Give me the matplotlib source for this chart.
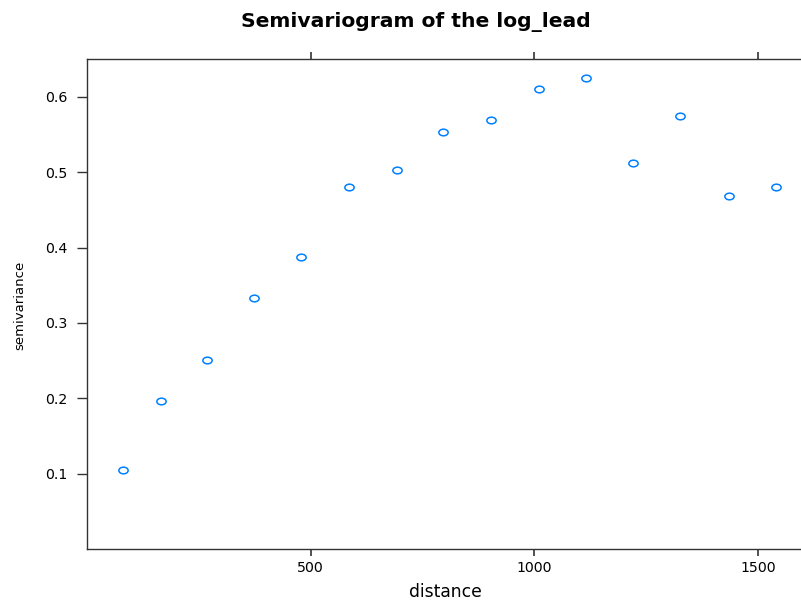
import matplotlib
matplotlib.use("Agg")
import matplotlib.pyplot as plt
from matplotlib.path import Path
from matplotlib.transforms import Affine2D

# --- данные вариограммы ---
dist = [80, 165, 268, 373, 479, 585, 692, 795, 902, 1010, 1116, 1220, 1327, 1435, 1541]
gamma = [0.105, 0.196, 0.251, 0.333, 0.387, 0.481, 0.503, 0.554, 0.569,
         0.610, 0.625, 0.512, 0.575, 0.468, 0.481]
x_ticks = [500, 1000, 1500]
y_ticks = [0.1, 0.2, 0.3, 0.4, 0.5, 0.6]
title = "Semivariogram of the log_lead"
x_label = "distance"
y_label = "semivariance"

W, H = 801, 605
AX_COL = "#333333"

plt.rcParams["font.family"] = ["DejaVu Sans"]

fig = plt.figure(figsize=(W / 100, H / 100), dpi=100)
fig.patch.set_facecolor("white")

# оси как в lattice: правый край уходит за пределы картинки
ax = fig.add_axes([87.3 / W, 56 / H, 716.4 / W, 489.7 / H])

# растянутый кружок (картинка была растянута по горизонтали)
ring = Path.unit_circle().transformed(Affine2D().scale(1.4, 1.0))
ax.plot(dist, gamma, linestyle="none", marker=ring, markersize=6.7,
        markerfacecolor="none", markeredgecolor="#0080ff", markeredgewidth=1.1)

ax.set_xlim(0, 1.04 * max(dist))
ax.set_ylim(0, 1.04 * max(gamma))

ax.set_xticks(x_ticks)
ax.set_xticklabels([str(t) for t in x_ticks])
ax.set_yticks(y_ticks)
ax.set_yticklabels([f"{t:.1f}" for t in y_ticks])

ax.tick_params(axis="x", which="both", direction="out", length=5, width=1.2,
               color=AX_COL, labelsize=10.2, pad=4, top=True, labeltop=False)
ax.tick_params(axis="y", which="both", direction="out", length=7.2, width=1.0,
               color=AX_COL, labelsize=10.2, pad=7, right=True, labelright=False)

for s in ax.spines.values():
    s.set_color(AX_COL)
    s.set_linewidth(1.0)

# --- подписи ---
fig.text(416 / W, 1 - 26.7 / H, title, ha="center", va="baseline",
         fontsize=14.6, fontweight="bold")
fig.text(445.6 / W, 1 - 597 / H, x_label, ha="center", va="baseline", fontsize=12.3)
fig.text(19.5 / W, 1 - 305 / H, y_label, ha="center", va="center",
         rotation=90, fontsize=9.5)

fig.savefig("out.png", dpi=100, facecolor="white")
